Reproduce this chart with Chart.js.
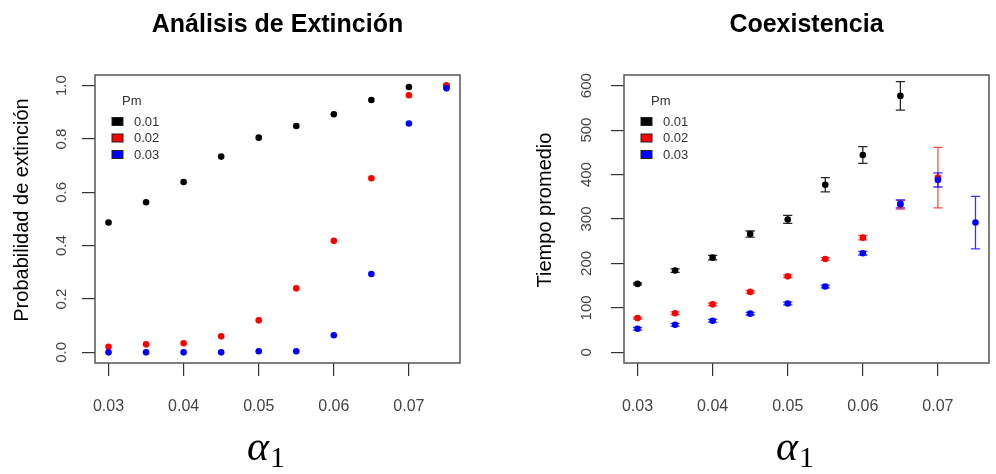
<!DOCTYPE html>
<html>
<head>
<meta charset="utf-8">
<script src="https://cdn.jsdelivr.net/npm/chart.js@4"></script>
<style>
  html, body { margin: 0; padding: 0; background: #fff; }
  body { width: 996px; height: 474px; position: relative; overflow: hidden; }
  .panel { position: absolute; top: 0; height: 474px; }
  #leftPanel { left: 0; width: 480px; }
  #rightPanel { left: 500px; width: 496px; }
</style>
</head>
<body>
<div class="panel" id="leftPanel"><canvas id="extChart"></canvas></div>
<div class="panel" id="rightPanel"><canvas id="coexChart"></canvas></div>
<script>
// alpha_1 values (x)
const alpha = [0.03, 0.035, 0.04, 0.045, 0.05, 0.055, 0.06, 0.065, 0.07, 0.075];
const pmLabels = ["0.01", "0.02", "0.03"];

// extinction probability
const extPm01 = [0.487, 0.563, 0.639, 0.734, 0.805, 0.849, 0.893, 0.946, 0.995, 1.0];
const extPm02 = [0.021, 0.030, 0.034, 0.060, 0.120, 0.240, 0.418, 0.653, 0.964, 1.0];
const extPm03 = [0.0, 0.0, 0.0, 0.0, 0.004, 0.004, 0.064, 0.294, 0.858, 0.990];

// mean coexistence time and error
const timePm01 = [154, 184, 213, 266, 299, 377, 444, 577];
const errPm01 = [2, 4, 5, 7, 9, 16, 19, 32];
const timePm02 = [77, 88, 108, 136, 171, 210, 258, 332, 393];
const errPm02 = [2, 3, 3, 3, 3, 3, 5, 10, 68];
const timePm03 = [53, 62, 71, 87, 110, 148, 223, 334, 388, 292];
const errPm03 = [3, 3, 3, 3, 3, 3, 4, 9, 16, 59];

// ticks
const xTicks = [0.03, 0.04, 0.05, 0.06, 0.07];
const xTickLabels = ["0.03", "0.04", "0.05", "0.06", "0.07"];
const yTicksExt = [0, 0.2, 0.4, 0.6, 0.8, 1.0];
const yTickLabelsExt = ["0.0", "0.2", "0.4", "0.6", "0.8", "1.0"];
const yTicksTime = [0, 100, 200, 300, 400, 500, 600];
const yTickLabelsTime = ["0", "100", "200", "300", "400", "500", "600"];

const colors = ["#000000", "#ff0000", "#0000ff"];
const barColors = ["rgba(0,0,0,0.85)", "rgba(255,0,0,0.7)", "rgba(0,0,255,0.8)"];
const SANS = "'Liberation Sans', Arial, sans-serif";

function points(vals) {
  return vals.map((v, i) => ({ x: alpha[i], y: v }));
}

function makeSets(series, errs) {
  return series.map((vals, k) => ({
    label: pmLabels[k],
    data: points(vals),
    err: errs ? errs[k] : null,
    barColor: barColors[k],
    backgroundColor: colors[k],
    borderWidth: 0,
    pointRadius: 3.3,
    pointHoverRadius: 3.3,
    order: 2 - k
  }));
}

const rFrame = {
  id: "rFrame",
  beforeDatasetsDraw(chart) {
    const { ctx, scales: { x, y } } = chart;
    chart.data.datasets.forEach(ds => {
      if (!ds.err) return;
      ctx.save();
      ctx.strokeStyle = ds.barColor;
      ctx.lineWidth = 1.3;
      ds.data.forEach((p, i) => {
        const px = x.getPixelForValue(p.x);
        const top = y.getPixelForValue(p.y + ds.err[i]);
        const bot = y.getPixelForValue(p.y - ds.err[i]);
        ctx.beginPath();
        ctx.moveTo(px, top); ctx.lineTo(px, bot);
        ctx.moveTo(px - 4.6, top); ctx.lineTo(px + 4.6, top);
        ctx.moveTo(px - 4.6, bot); ctx.lineTo(px + 4.6, bot);
        ctx.stroke();
      });
      ctx.restore();
    });
  },
  afterDraw(chart, args, o) {
    const { ctx, chartArea: a, scales: { y } } = chart;
    ctx.save();
    // box
    ctx.strokeStyle = "#555";
    ctx.lineWidth = 1.5;
    ctx.strokeRect(a.left, a.top, a.right - a.left, a.bottom - a.top);

    // y tick labels, rotated like R
    ctx.fillStyle = "#444";
    ctx.font = "15px " + SANS;
    ctx.textAlign = "center";
    ctx.textBaseline = "middle";
    y.ticks.forEach((t, i) => {
      ctx.save();
      ctx.translate(o.tickLabelX, y.getPixelForValue(t.value));
      ctx.rotate(-Math.PI / 2);
      ctx.fillText(o.yLabels[i], 0, 0);
      ctx.restore();
    });

    // y title
    ctx.fillStyle = "#000";
    ctx.font = "20px " + SANS;
    ctx.save();
    ctx.translate(o.yTitleX, (a.top + a.bottom) / 2 - 9);
    ctx.rotate(-Math.PI / 2);
    ctx.fillText(o.yTitle, 0, 0);
    ctx.restore();

    // main title
    ctx.font = "bold 25px " + SANS;
    ctx.fillText(o.title, (a.left + a.right) / 2, 25);

    // x title: alpha_1
    const cx = (a.left + a.right) / 2 - 12;
    ctx.font = "italic 42px 'Liberation Serif', 'Times New Roman', serif";
    const wa = ctx.measureText("\u03b1").width;
    ctx.font = "30px 'Liberation Serif', 'Times New Roman', serif";
    const w1 = ctx.measureText("1").width;
    const sx = cx - (wa + w1) / 2;
    ctx.textAlign = "left";
    ctx.textBaseline = "alphabetic";
    ctx.font = "italic 42px 'Liberation Serif', 'Times New Roman', serif";
    ctx.fillText("\u03b1", sx, 460);
    ctx.font = "30px 'Liberation Serif', 'Times New Roman', serif";
    ctx.fillText("1", sx + wa + 1, 467);

    // legend
    ctx.font = "13px " + SANS;
    ctx.fillStyle = "#333";
    ctx.textBaseline = "middle";
    ctx.fillText("Pm", a.left + 27, a.top + 26);
    const rows = [46.5, 63, 79.5];
    chart.data.datasets.forEach((ds, k) => {
      const ry = a.top + rows[k];
      ctx.fillStyle = ds.backgroundColor;
      ctx.fillRect(a.left + 17, ry - 4, 11, 8);
      ctx.strokeStyle = "#222";
      ctx.lineWidth = 1;
      ctx.strokeRect(a.left + 17, ry - 4, 11, 8);
      ctx.fillStyle = "#333";
      ctx.fillText(ds.label, a.left + 39, ry + 0.5);
    });
    ctx.restore();
  }
};

function makeOptions(cfg) {
  return {
    responsive: true,
    maintainAspectRatio: false,
    animation: false,
    events: [],
    layout: { padding: { top: 75, bottom: 51, left: 0, right: cfg.padRight } },
    plugins: {
      legend: { display: false },
      tooltip: { enabled: false },
      rFrame: {
        title: cfg.title,
        yTitle: cfg.yTitle,
        yTitleX: cfg.yTitleX,
        tickLabelX: cfg.tickLabelX,
        yLabels: cfg.yLabels
      }
    },
    scales: {
      x: {
        type: "linear",
        min: 0.0282,
        max: 0.0768,
        afterBuildTicks: s => { s.ticks = xTicks.map(v => ({ value: v })); },
        afterFit: s => { s.height = 60; },
        ticks: {
          callback: (v, i) => xTickLabels[i],
          color: "#444",
          font: { size: 16, family: SANS },
          padding: 21,
          maxRotation: 0
        },
        grid: { drawOnChartArea: false, drawTicks: true, tickLength: 13, color: "#333", lineWidth: 1.2 },
        border: { display: false }
      },
      y: {
        type: "linear",
        min: cfg.yMin,
        max: cfg.yMax,
        afterBuildTicks: s => { s.ticks = cfg.yTicks.map(v => ({ value: v })); },
        afterFit: s => { s.width = cfg.yWidth; },
        ticks: { display: false },
        grid: { drawOnChartArea: false, drawTicks: true, tickLength: 13, color: "#333", lineWidth: 1.2 },
        border: { display: false }
      }
    }
  };
}

new Chart(document.getElementById("extChart"), {
  type: "scatter",
  data: { datasets: makeSets([extPm01, extPm02, extPm03], null) },
  options: makeOptions({
    title: "Análisis de Extinción",
    yTitle: "Probabilidad de extinción",
    yTitleX: 22,
    tickLabelX: 62,
    yLabels: yTickLabelsExt,
    yTicks: yTicksExt,
    yMin: -0.04,
    yMax: 1.04,
    yWidth: 95,
    padRight: 20
  }),
  plugins: [rFrame]
});

new Chart(document.getElementById("coexChart"), {
  type: "scatter",
  data: { datasets: makeSets([timePm01, timePm02, timePm03], [errPm01, errPm02, errPm03]) },
  options: makeOptions({
    title: "Coexistencia",
    yTitle: "Tiempo promedio",
    yTitleX: 45,
    tickLabelX: 87,
    yLabels: yTickLabelsTime,
    yTicks: yTicksTime,
    yMin: -24,
    yMax: 624,
    yWidth: 124,
    padRight: 7
  }),
  plugins: [rFrame]
});
</script>
</body>
</html>
